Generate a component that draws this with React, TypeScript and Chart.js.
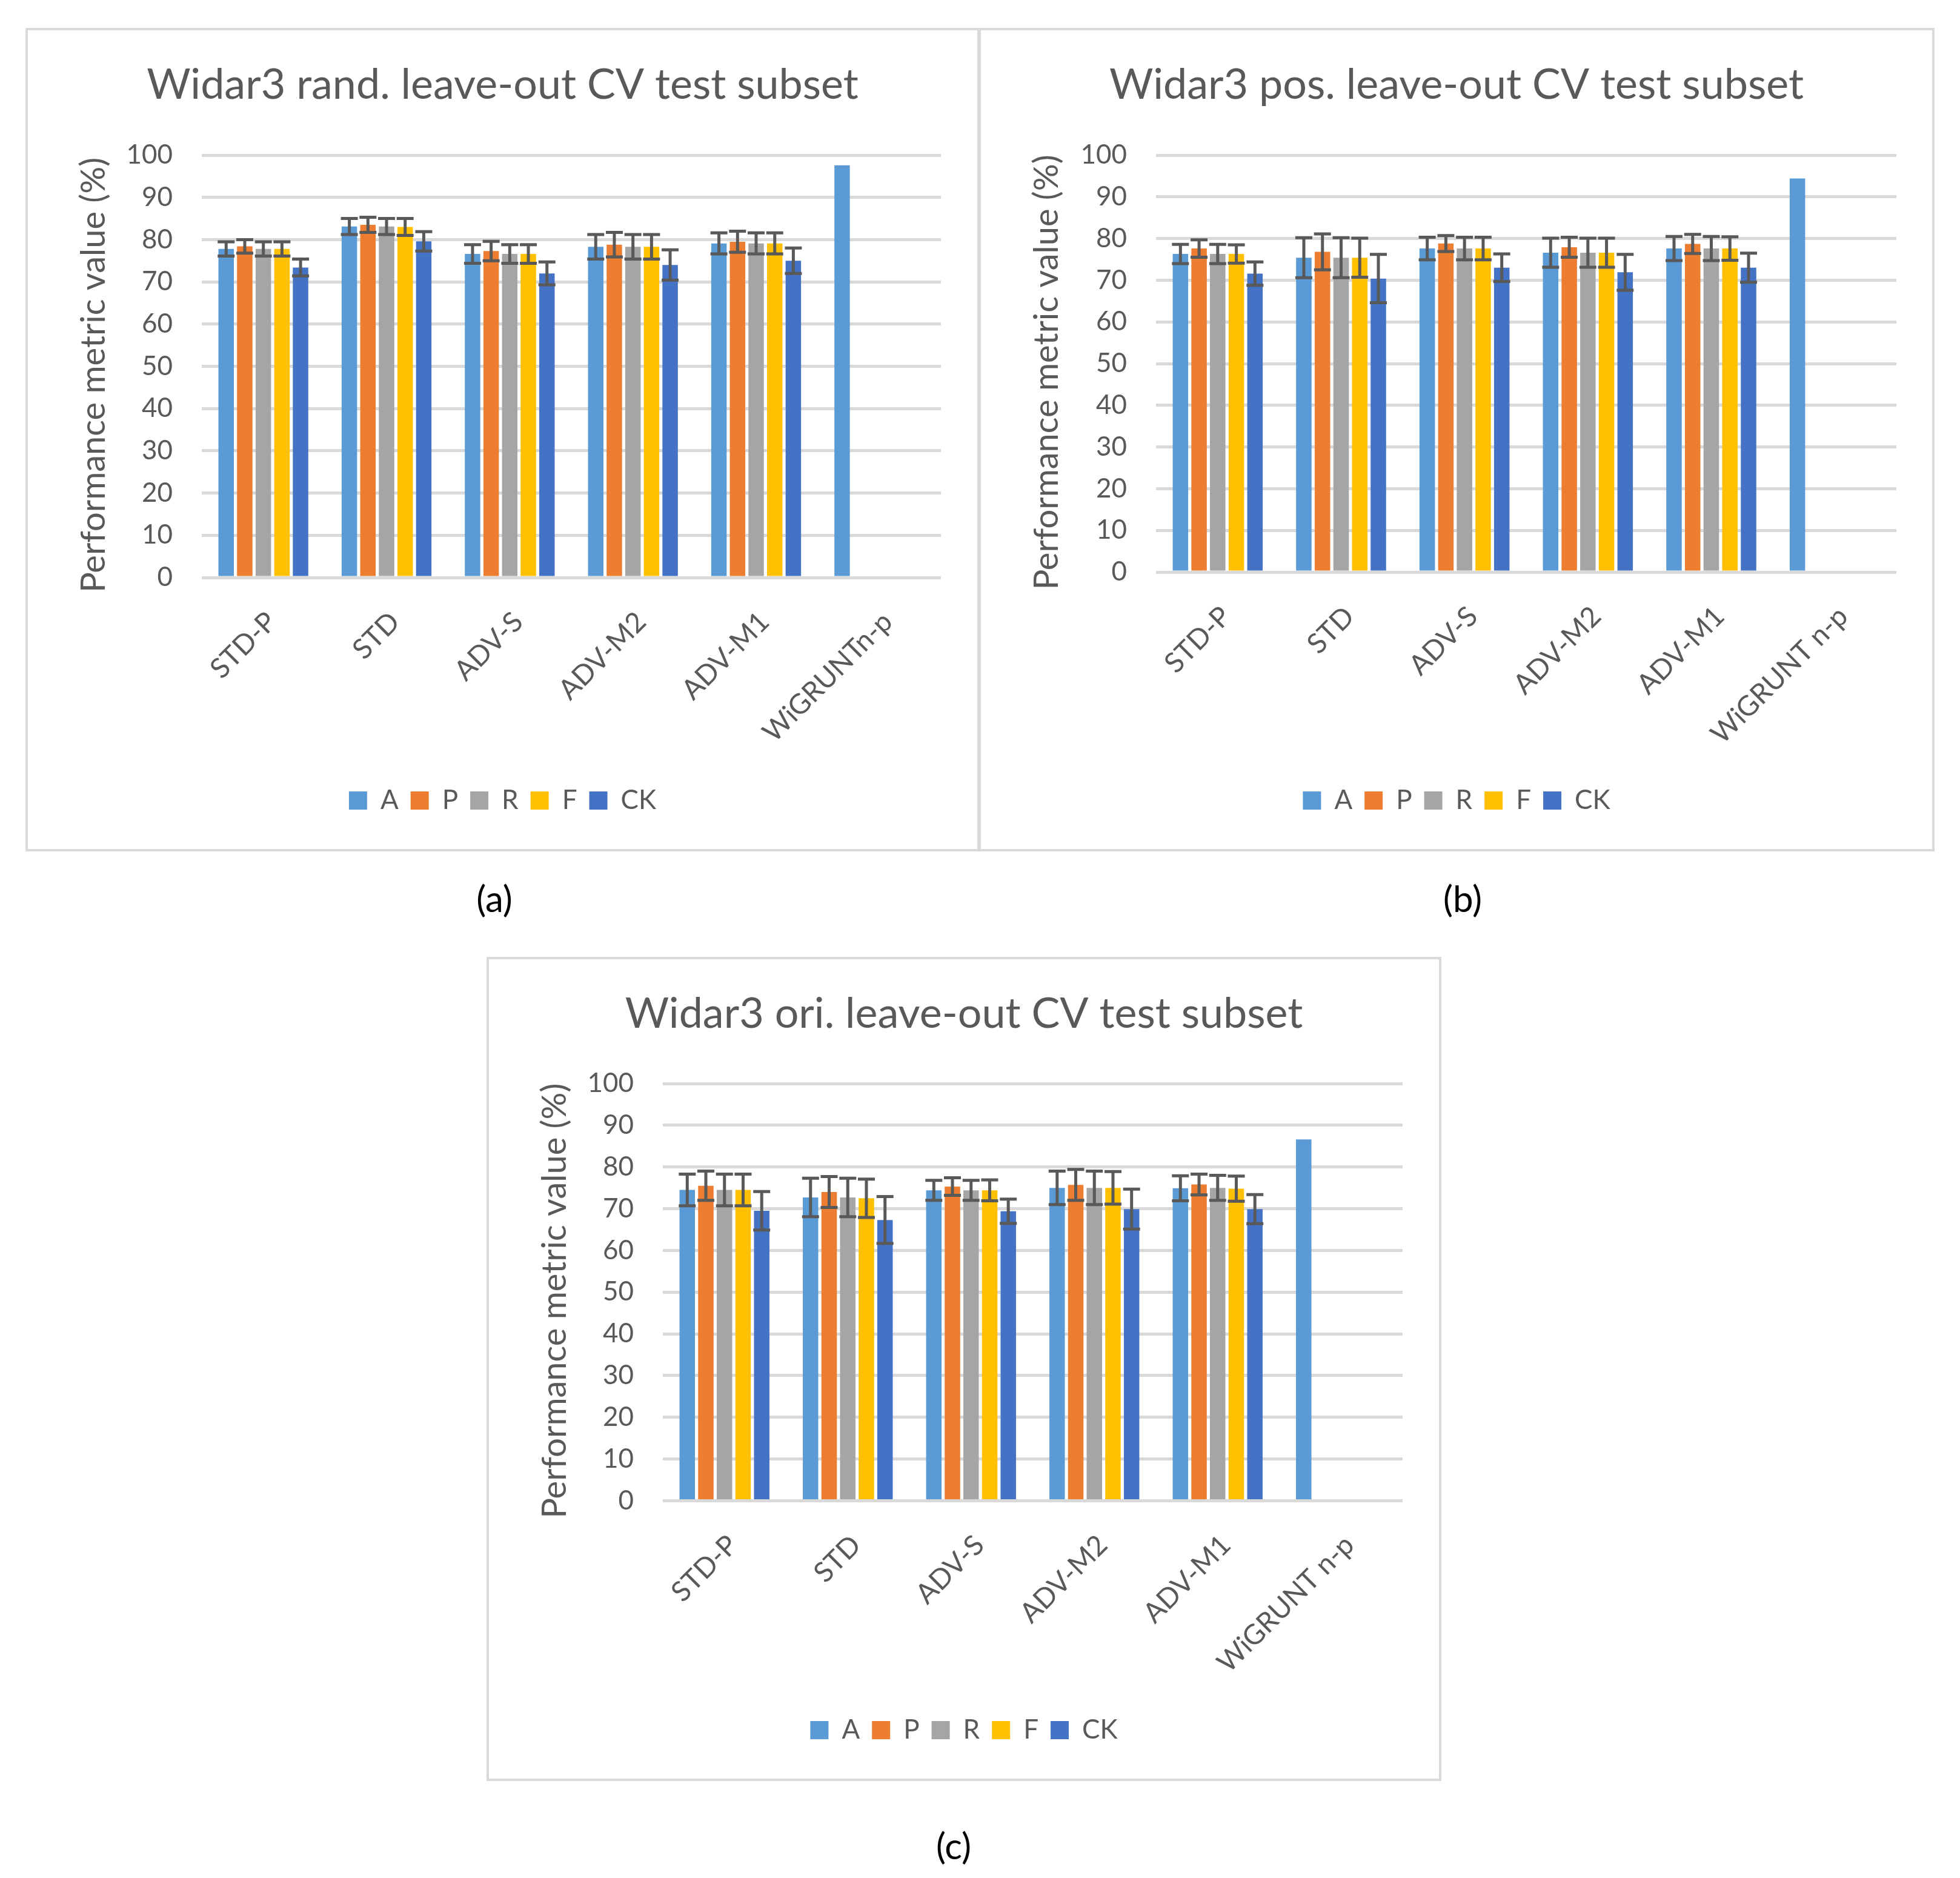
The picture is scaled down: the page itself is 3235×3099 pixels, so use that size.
import React, { useEffect, useRef } from 'react';
import { Chart, registerables } from 'chart.js';

Chart.register(...registerables);

// ---------- data ----------
const categoriesA = ['STD-P', 'STD', 'ADV-S', 'ADV-M2', 'ADV-M1', 'WiGRUNTn-p'];
const categoriesBC = ['STD-P', 'STD', 'ADV-S', 'ADV-M2', 'ADV-M1', 'WiGRUNT n-p'];
const seriesNames = ['A', 'P', 'R', 'F', 'CK'];
const seriesColors = ['#5B9BD5', '#ED7D31', '#A5A5A5', '#FFC000', '#4472C4'];
const yTicks = [0, 10, 20, 30, 40, 50, 60, 70, 80, 90, 100];

// (a) random leave-out
const randA = [77.8, 83.1, 76.6, 78.3, 79.1, 97.6];
const randP = [78.4, 83.5, 77.3, 78.8, 79.5, null];
const randR = [77.8, 83.1, 76.6, 78.3, 79.1, null];
const randF = [77.8, 83.0, 76.6, 78.3, 79.1, null];
const randCK = [73.4, 79.6, 72.0, 74.0, 75.0, null];
const randErrA = [1.7, 1.9, 2.2, 2.9, 2.5, null];
const randErrP = [1.6, 1.8, 2.3, 2.9, 2.5, null];
const randErrR = [1.7, 1.9, 2.2, 2.9, 2.5, null];
const randErrF = [1.7, 2.0, 2.2, 2.9, 2.5, null];
const randErrCK = [2.0, 2.3, 2.7, 3.6, 3.0, null];

// (b) position leave-out
const posA = [76.3, 75.4, 77.6, 76.6, 77.6, 94.4];
const posP = [77.6, 76.8, 78.8, 77.9, 78.7, null];
const posR = [76.3, 75.4, 77.6, 76.6, 77.6, null];
const posF = [76.3, 75.4, 77.6, 76.6, 77.6, null];
const posCK = [71.6, 70.4, 73.0, 71.9, 73.0, null];
const posErrA = [2.3, 4.8, 2.7, 3.5, 2.9, null];
const posErrP = [2.1, 4.3, 1.9, 2.4, 2.3, null];
const posErrR = [2.3, 4.8, 2.7, 3.5, 2.9, null];
const posErrF = [2.2, 4.7, 2.7, 3.5, 2.8, null];
const posErrCK = [2.8, 5.8, 3.3, 4.3, 3.5, null];

// (c) orientation leave-out
const oriA = [74.5, 72.7, 74.4, 75.0, 74.9, 86.6];
const oriP = [75.5, 74.0, 75.3, 75.7, 75.8, null];
const oriR = [74.5, 72.7, 74.4, 75.0, 75.0, null];
const oriF = [74.5, 72.5, 74.4, 75.0, 74.8, null];
const oriCK = [69.5, 67.3, 69.4, 69.9, 69.9, null];
const oriErrA = [3.8, 4.6, 2.4, 4.0, 3.0, null];
const oriErrP = [3.5, 3.7, 2.1, 3.7, 2.5, null];
const oriErrR = [3.8, 4.6, 2.4, 4.0, 3.0, null];
const oriErrF = [3.8, 4.6, 2.5, 3.9, 3.0, null];
const oriErrCK = [4.6, 5.6, 2.9, 4.8, 3.5, null];

const titleA = 'Widar3 rand. leave-out CV test subset';
const titleB = 'Widar3 pos. leave-out CV test subset';
const titleC = 'Widar3 ori. leave-out CV test subset';
const yAxisTitle = 'Performance metric value (%)';

// ---------- styling ----------
const TEXT = '#595959';
const GRID = '#D9D9D9';
const FONT = 'Lato';

const errorBarPlugin = {
  id: 'errorBars',
  afterDatasetsDraw(chart: any) {
    const { ctx } = chart;
    const yScale = chart.scales.y;
    ctx.save();
    ctx.strokeStyle = TEXT;
    ctx.lineWidth = 5;
    ctx.lineCap = 'butt';
    chart.data.datasets.forEach((ds: any, i: number) => {
      const errs = ds.errors;
      if (!errs) return;
      const meta = chart.getDatasetMeta(i);
      meta.data.forEach((bar: any, j: number) => {
        const v = ds.data[j];
        const e = errs[j];
        if (v == null || e == null) return;
        const x = bar.x;
        const yt = yScale.getPixelForValue(v + e);
        const yb = yScale.getPixelForValue(v - e);
        const hw = 14;
        ctx.beginPath();
        ctx.moveTo(x, yt);
        ctx.lineTo(x, yb);
        ctx.moveTo(x - hw, yt);
        ctx.lineTo(x + hw, yt);
        ctx.moveTo(x - hw, yb);
        ctx.lineTo(x + hw, yb);
        ctx.stroke();
      });
    });
    ctx.restore();
  },
};

type PanelCfg = {
  labels: string[];
  values: (number | null)[][];
  errors: (number | null)[][];
  title: string;
  box: { x: number; y: number; w: number; h: number };
  area: { left: number; right: number; top: number; bottom: number };
};

function BarPanel({ cfg }: { cfg: PanelCfg }) {
  const ref = useRef<HTMLCanvasElement | null>(null);
  const cw = cfg.box.w - 8;
  const ch = cfg.box.h - 8;
  useEffect(() => {
    const titleSize = 70;
    const titleLH = titleSize * 1.2;
    const titleTop = 90 - titleLH / 2;
    const legendPadBottom = 48;
    const legendBlock = 74 + legendPadBottom;
    const xAxisHeight = ch - cfg.area.bottom - legendBlock;
    const padSide = cw - cfg.area.right;
    const yTitleSize = 56;
    const chart = new Chart(ref.current as HTMLCanvasElement, {
      type: 'bar',
      data: {
        labels: cfg.labels,
        datasets: seriesNames.map((name, i) => ({
          label: name,
          data: cfg.values[i],
          errors: cfg.errors[i],
          backgroundColor: seriesColors[i],
          borderWidth: 0,
          categoryPercentage: 0.755,
          barPercentage: 0.83,
        })) as any,
      },
      options: {
        responsive: false,
        animation: false,
        devicePixelRatio: 1,
        layout: {
          padding: { left: padSide, right: padSide, top: 0, bottom: legendPadBottom },
        },
        plugins: {
          title: {
            display: true,
            text: cfg.title,
            color: TEXT,
            font: { family: FONT, size: titleSize, weight: 'normal' },
            padding: { top: titleTop, bottom: cfg.area.top - titleTop - titleLH },
          },
          legend: {
            display: true,
            position: 'bottom',
            labels: {
              color: TEXT,
              font: { family: FONT, size: 44 },
              boxWidth: 30,
              boxHeight: 30,
              padding: 20,
            },
          },
          tooltip: { enabled: false },
        },
        scales: {
          x: {
            grid: { display: false, drawTicks: false },
            border: { display: false },
            ticks: {
              color: TEXT,
              font: { family: FONT, size: 46 },
              minRotation: 45,
              maxRotation: 45,
              autoSkip: false,
              padding: 46,
              labelOffset: 14,
            },
            afterFit: (scale: any) => {
              scale.height = xAxisHeight;
            },
          },
          y: {
            min: 0,
            max: 100,
            afterBuildTicks: (scale: any) => {
              scale.ticks = yTicks.map((v) => ({ value: v }));
            },
            grid: { color: GRID, lineWidth: 5, drawTicks: false },
            border: { display: false },
            ticks: {
              color: TEXT,
              font: { family: FONT, size: 44 },
              padding: 48,
            },
            title: {
              display: true,
              text: yAxisTitle + '  ',
              color: TEXT,
              font: { family: FONT, size: yTitleSize },
              padding: { top: 109 - (yTitleSize * 1.2) / 2 - padSide, bottom: 0 },
            },
            afterFit: (scale: any) => {
              scale.width = cfg.area.left - padSide;
            },
          },
        },
      },
      plugins: [errorBarPlugin],
    } as any);
    return () => chart.destroy();
  }, []);
  return (
    <div
      style={{
        position: 'absolute',
        left: cfg.box.x,
        top: cfg.box.y,
        width: cfg.box.w,
        height: cfg.box.h,
        border: `4px solid ${GRID}`,
        boxSizing: 'border-box',
        background: '#fff',
      }}
    >
      <canvas ref={ref} width={cw} height={ch} style={{ display: 'block', width: cw, height: ch }} />
    </div>
  );
}

function Caption({ text, cx, cy }: { text: string; cx: number; cy: number }) {
  return (
    <div
      style={{
        position: 'absolute',
        left: cx - 100,
        top: cy - 36,
        width: 200,
        height: 72,
        lineHeight: '72px',
        textAlign: 'center',
        fontFamily: FONT,
        fontSize: 60,
        color: '#000',
      }}
    >
      {text}
    </div>
  );
}

const panelA: PanelCfg = {
  labels: categoriesA,
  values: [randA, randP, randR, randF, randCK],
  errors: [randErrA, randErrP, randErrR, randErrF, randErrCK],
  title: titleA,
  box: { x: 42, y: 46, w: 1575, h: 1359 },
  area: { left: 287, right: 1507, top: 206, bottom: 903 },
};
const panelB: PanelCfg = {
  labels: categoriesBC,
  values: [posA, posP, posR, posF, posCK],
  errors: [posErrA, posErrP, posErrR, posErrF, posErrCK],
  title: titleB,
  box: { x: 1615, y: 46, w: 1578, h: 1359 },
  area: { left: 289, right: 1511, top: 206, bottom: 894 },
};
const panelC: PanelCfg = {
  labels: categoriesBC,
  values: [oriA, oriP, oriR, oriF, oriCK],
  errors: [oriErrA, oriErrP, oriErrR, oriErrF, oriErrCK],
  title: titleC,
  box: { x: 803, y: 1579, w: 1576, h: 1360 },
  area: { left: 287, right: 1508, top: 205, bottom: 893.5 },
};

export default function App() {
  return (
    <div style={{ position: 'absolute', left: 0, top: 0, width: 3235, height: 3099, background: '#fff' }}>
      <BarPanel cfg={panelA} />
      <BarPanel cfg={panelB} />
      <BarPanel cfg={panelC} />
      <Caption text="(a)" cx={816} cy={1482} />
      <Caption text="(b)" cx={2414} cy={1482} />
      <Caption text="(c)" cx={1574} cy={3045} />
    </div>
  );
}
